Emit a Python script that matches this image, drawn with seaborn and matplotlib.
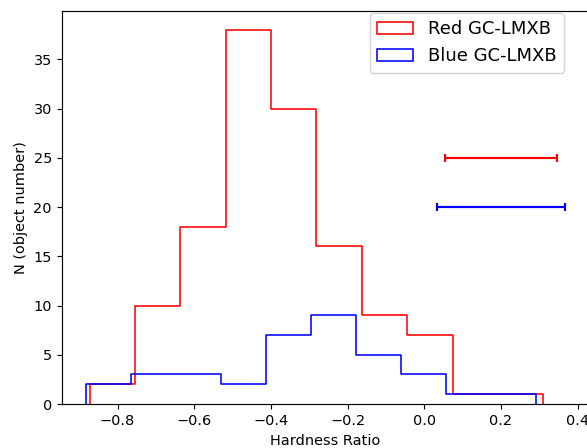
import numpy as np
import pandas as pd
import matplotlib
matplotlib.use("Agg")
import matplotlib.pyplot as plt
from matplotlib.patches import Patch
import seaborn as sns

# Hardness-ratio histograms (bin edges and counts per bin)
red_edges = np.linspace(-0.873, 0.3105, 11)
red_counts = [2, 10, 18, 38, 30, 16, 9, 7, 1, 1]
blue_edges = np.linspace(-0.883, 0.2906, 11)
blue_counts = [2, 3, 3, 2, 7, 9, 5, 3, 1, 1]

# Typical uncertainty bars
err_x = [0.2, 0.2]
err_y = [25, 20]
err_half = [0.145, 0.168]
labels = ["Red GC-LMXB", "Blue GC-LMXB"]
colors = ["red", "blue"]

sns.set_style("ticks")
plt.rcParams["font.family"] = ["DejaVu Sans"]
plt.rcParams.update({
    "text.color": "black",
    "axes.labelcolor": "black",
    "axes.edgecolor": "black",
    "xtick.color": "black",
    "ytick.color": "black",
})

dpi = 104
fig = plt.figure(figsize=(587 / dpi, 448 / dpi), dpi=dpi)
ax = fig.add_axes([0.1056, 0.0982, 0.898, 0.877])

for edges, counts, col in [(red_edges, red_counts, colors[0]),
                           (blue_edges, blue_counts, colors[1])]:
    df = pd.DataFrame({"hr": 0.5 * (edges[:-1] + edges[1:]), "n": counts})
    sns.histplot(data=df, x="hr", weights="n", bins=list(edges),
                 element="step", fill=False, color=col, linewidth=1.1, ax=ax)
    # close the outline down to the baseline at both ends
    ax.vlines([edges[0], edges[-1]], 0, [counts[0], counts[-1]],
              color=col, linewidth=1.1)

for x, y, e, col in zip(err_x, err_y, err_half, colors):
    ax.errorbar(x, y, xerr=e, color=col, lw=1.5, capsize=3, capthick=1.5)

ax.set_xlim(-0.945, 0.43)
ax.set_ylim(0, 39.9)
ax.set_yticks(range(0, 40, 5))
ax.set_xticks([-0.8, -0.6, -0.4, -0.2, 0.0, 0.2, 0.4])
ax.tick_params(labelsize=10)
ax.set_xlabel("Hardness Ratio", fontsize=10)
ax.set_ylabel("N (object number)", fontsize=10)
for s in ax.spines.values():
    s.set_linewidth(0.8)

handles = [Patch(facecolor="none", edgecolor=c, linewidth=1.1) for c in colors]
ax.legend(handles, labels, loc="upper right", bbox_to_anchor=(0.9526, 0.995),
          borderaxespad=0, fontsize=12.5, handlelength=2.0, handletextpad=0.85)

fig.savefig("out.png", dpi=dpi)
